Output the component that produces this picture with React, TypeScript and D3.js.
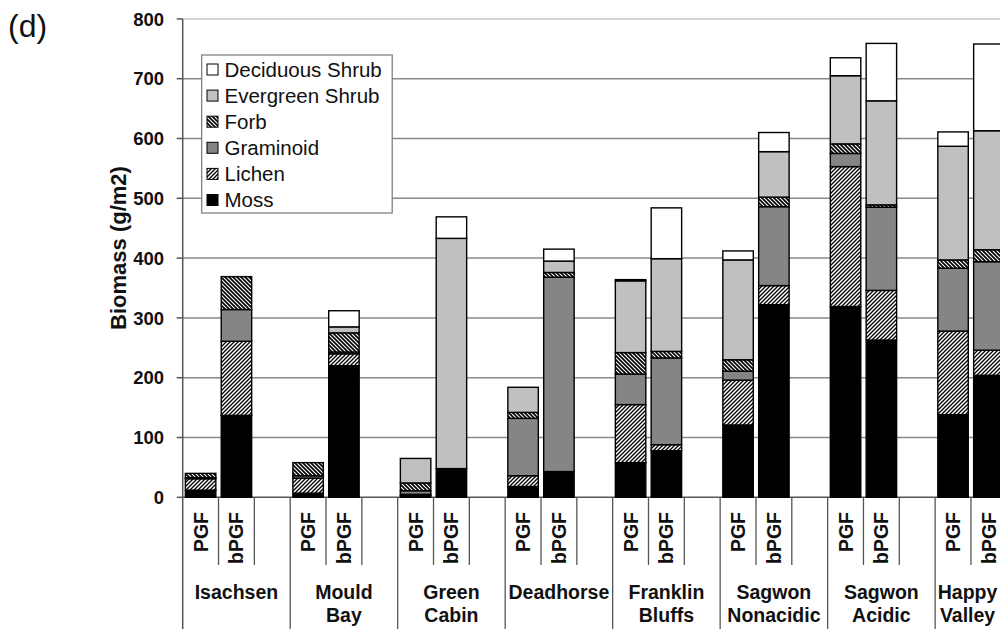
import React from "react";
import * as d3 from "d3";

const sites = ["Isachsen", "Mould Bay", "Green Cabin", "Deadhorse", "Franklin Bluffs", "Sagwon Nonacidic", "Sagwon Acidic", "Happy Valley"];
const siteLabelLines = [["Isachsen"], ["Mould", "Bay"], ["Green", "Cabin"], ["Deadhorse"], ["Franklin", "Bluffs"], ["Sagwon", "Nonacidic"], ["Sagwon", "Acidic"], ["Happy", "Valley"]];
const treatments = ["PGF", "bPGF"];

// values per bar, in order: site0 PGF, site0 bPGF, site1 PGF, ...
const moss = [12, 137, 7, 220, 3, 48, 18, 43, 58, 78, 121, 322, 319, 263, 138, 204];
const lichen = [19, 124, 25, 20, 2, 0, 18, 0, 97, 10, 75, 32, 234, 83, 140, 42];
const graminoid = [2, 53, 4, 3, 6, 0, 96, 325, 51, 145, 15, 132, 22, 139, 105, 148];
const forb = [7, 55, 22, 32, 13, 0, 10, 8, 36, 11, 19, 16, 16, 4, 14, 20];
const evergreenShrub = [0, 0, 0, 10, 41, 385, 42, 19, 120, 155, 167, 76, 114, 174, 190, 199];
const deciduousShrub = [0, 0, 0, 27, 0, 36, 0, 20, 2, 85, 15, 32, 30, 96, 24, 145];

const seriesNames = ["Moss", "Lichen", "Graminoid", "Forb", "Evergreen Shrub", "Deciduous Shrub"];
const seriesValues = [moss, lichen, graminoid, forb, evergreenShrub, deciduousShrub];
const yTicks = [0, 100, 200, 300, 400, 500, 600, 700, 800];

const fills: Record<string, string> = {
  Moss: "#000000",
  Lichen: "url(#lichenHatch)",
  Graminoid: "#858585",
  Forb: "url(#forbHatch)",
  "Evergreen Shrub": "#c0c0c0",
  "Deciduous Shrub": "#ffffff",
};

const FONT = "'Liberation Sans', Arial, Helvetica, sans-serif";

export default function App() {
  const W = 1000;
  const H = 629;
  const x0 = 182.7;
  const slotW = 35.83;

  const slots: string[] = [];
  sites.forEach((s) => {
    slots.push(s + "|PGF", s + "|bPGF", s + "|gap");
  });

  const x = d3
    .scaleBand<string>()
    .domain(slots)
    .range([x0, x0 + slots.length * slotW])
    .paddingInner(0.15)
    .paddingOuter(0.075);

  const y = d3.scaleLinear().domain([0, 800]).range([497.3, 18.9]);

  const rows = sites.flatMap((s, i) =>
    treatments.map((t, j) => {
      const idx = i * 2 + j;
      const r: any = { key: s + "|" + t, site: s, treatment: t };
      seriesNames.forEach((n, k) => (r[n] = seriesValues[k][idx]));
      return r;
    })
  );

  const stack = d3.stack<any>().keys(seriesNames)(rows);

  const step = x.step();
  const groupW = step * 3;
  const axisY = y(0);

  const legendItems = [...seriesNames].reverse();

  return (
    <svg width={W} height={H} style={{ position: "absolute", left: 0, top: 0, background: "#fff" }} fontFamily={FONT}>
      <defs>
        <pattern id="lichenHatch" patternUnits="userSpaceOnUse" width={4} height={4}>
          <rect width={4} height={4} fill="#fff" />
          <path d="M-1,1 l2,-2 M0,4 l4,-4 M3,5 l2,-2" stroke="#000" strokeWidth={1.3} />
        </pattern>
        <pattern id="forbHatch" patternUnits="userSpaceOnUse" width={4} height={4}>
          <rect width={4} height={4} fill="#fff" />
          <path d="M-1,3 l2,2 M0,0 l4,4 M3,-1 l2,2" stroke="#000" strokeWidth={1.7} />
        </pattern>
      </defs>

      <text x={8} y={37} fontSize={32} fill="#111" fontFamily={FONT}>(d)</text>

      {/* gridlines */}
      {yTicks.map((t) => (
        <line
          key={"g" + t}
          x1={x0}
          x2={W}
          y1={y(t)}
          y2={y(t)}
          stroke={t === 800 ? "#c4c4c4" : t === 0 ? "#555" : "#8a8a8a"}
          strokeWidth={1.5}
        />
      ))}

      {/* y axis */}
      <line x1={x0} x2={x0} y1={y(800)} y2={H} stroke="#555" strokeWidth={1.5} />
      {yTicks.map((t) => (
        <g key={"t" + t}>
          <line x1={x0 - 6} x2={x0} y1={y(t)} y2={y(t)} stroke="#555" strokeWidth={1.5} />
          <text x={164} y={y(t)} dy="0.36em" textAnchor="end" fontSize={18.5} fontWeight="bold" fill="#111">
            {t}
          </text>
        </g>
      ))}

      <text
        transform={`translate(126,${248}) rotate(-90)`}
        textAnchor="middle"
        fontSize={22}
        fontWeight="bold"
        fill="#111"
      >
        Biomass (g/m2)
      </text>

      {/* bars */}
      <g>
        {stack.map((layer) => (
          <g key={layer.key}>
            {layer.map((d: any, i: number) => {
              const v = d[1] - d[0];
              if (v <= 0) return null;
              const key = rows[i].key;
              return (
                <rect
                  key={key}
                  x={x(key)}
                  width={x.bandwidth()}
                  y={y(d[1])}
                  height={y(d[0]) - y(d[1])}
                  fill={fills[layer.key]}
                  stroke="#000"
                  strokeWidth={1.4}
                />
              );
            })}
          </g>
        ))}
      </g>

      {/* category axis separators */}
      {slots.map((s, i) => {
        const xl = x0 + step * (i + 1);
        const long = (i + 1) % 3 === 0;
        return (
          <line key={"sep" + s} x1={xl} x2={xl} y1={axisY} y2={long ? H : 565} stroke="#555" strokeWidth={1.3} />
        );
      })}

      {/* treatment labels */}
      {rows.map((r) => {
        const cx = (x(r.key) as number) + x.bandwidth() / 2;
        return (
          <text
            key={"lab" + r.key}
            transform={`translate(${cx},512) rotate(-90)`}
            textAnchor="end"
            dy="0.36em"
            fontSize={19.5}
            fontWeight="bold"
            fill="#111"
          >
            {r.treatment}
          </text>
        );
      })}

      {/* site labels (centred on the visible part of each group) */}
      {sites.map((s, i) => {
        const gStart = x0 + groupW * i;
        const gEnd = Math.min(gStart + groupW, W);
        const cx = (gStart + gEnd) / 2;
        return (
          <text key={"site" + s} x={cx} y={599} textAnchor="middle" fontSize={19.5} fontWeight="bold" fill="#111">
            {siteLabelLines[i].map((ln, k) => (
              <tspan key={k} x={cx} y={599 + k * 22.6}>
                {ln}
              </tspan>
            ))}
          </text>
        );
      })}

      {/* legend */}
      <g>
        <rect x={201.7} y={55} width={190.5} height={158} fill="#fff" stroke="#777" strokeWidth={1.2} />
        {legendItems.map((n, i) => {
          const cy = 69.5 + i * 26.1;
          return (
            <g key={"leg" + n}>
              <rect x={207} y={cy - 5.5} width={11} height={11} fill={fills[n]} stroke="#000" strokeWidth={1} />
              <text x={224.5} y={cy} dy="0.36em" fontSize={20.5} fill="#111">
                {n}
              </text>
            </g>
          );
        })}
      </g>
    </svg>
  );
}
